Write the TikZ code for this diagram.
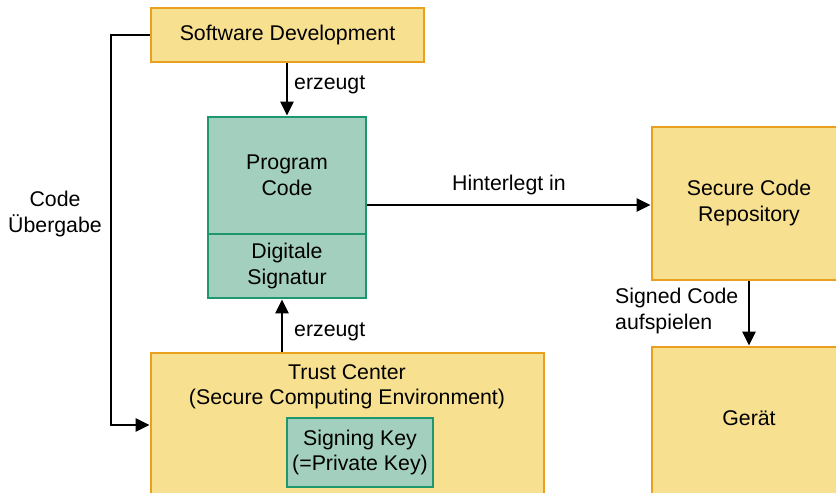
\documentclass[tikz,border=0pt]{standalone}
\usepackage{fontspec}
\setmainfont{Liberation Sans}
\usetikzlibrary{arrows.meta}
\definecolor{boxfill}{RGB}{247,225,145}
\definecolor{boxline}{RGB}{232,160,30}
\definecolor{keyfill}{RGB}{163,207,190}
\definecolor{keyline}{RGB}{30,150,110}
\begin{document}
\begin{tikzpicture}[x=1pt,y=-1pt,
  every node/.style={font=\fontsize{21.3}{25.5}\selectfont, align=center, inner sep=0pt},
  yellowbox/.style={draw=boxline, fill=boxfill, line width=2.8pt},
  greenbox/.style={draw=keyline, fill=keyfill, line width=2.8pt},
  conn/.style={line width=2.9pt, -{Triangle[length=14pt,width=13pt]}}]
\useasboundingbox (0,0) rectangle (836,493);
\clip (0,0) rectangle (836,493);

% boxes
\node[yellowbox, minimum width=273, minimum height=54] (sd) at (287.5,35) {Software Development};
\node[greenbox, minimum width=158, minimum height=117] (pc) at (287,175.5) {Program\\Code};
\node[greenbox, minimum width=158, minimum height=64] (sig) at (287,266) {Digitale\\Signatur};
\node[yellowbox, minimum width=194, minimum height=153] (scr) at (749,203.5) {};
\node at (749,203) {Secure Code\\Repository};
\node[yellowbox, minimum width=194, minimum height=170] (dev) at (749,432) {};
\node at (749,418) {Gerät};
\node[yellowbox, minimum width=393, minimum height=160] (tc) at (347.5,433) {};
\node at (347,387) {Trust Center\\(Secure Computing Environment)};
\node[greenbox, minimum width=146, minimum height=69] (key) at (360,452.5) {Signing Key\\(=Private Key)};

% connectors
\draw[conn] (sd.south -| 287,0) -- (pc.north -| 287,0);
\draw[conn] (tc.north -| 282,0) -- (sig.south -| 282,0);
\draw[conn] (pc.east |- 0,205) -- (scr.west |- 0,205);
\draw[conn] (scr.south) -- (dev.north);
\draw[conn] (sd.west) -- (sd.west -| 111,0) |- (tc.west |- 0,425);

% connector labels
\node[anchor=west] (l1) at (294,85) {erzeugt};
\node[anchor=west] (l2) at (294,332) {erzeugt};
\node (l3) at (509,185) {Hinterlegt in};
\node (l4) at (55,214) {Code\\Übergabe};
\node[anchor=west, align=left] (l5) at (615,311) {Signed Code\\aufspielen};
\end{tikzpicture}
\end{document}
